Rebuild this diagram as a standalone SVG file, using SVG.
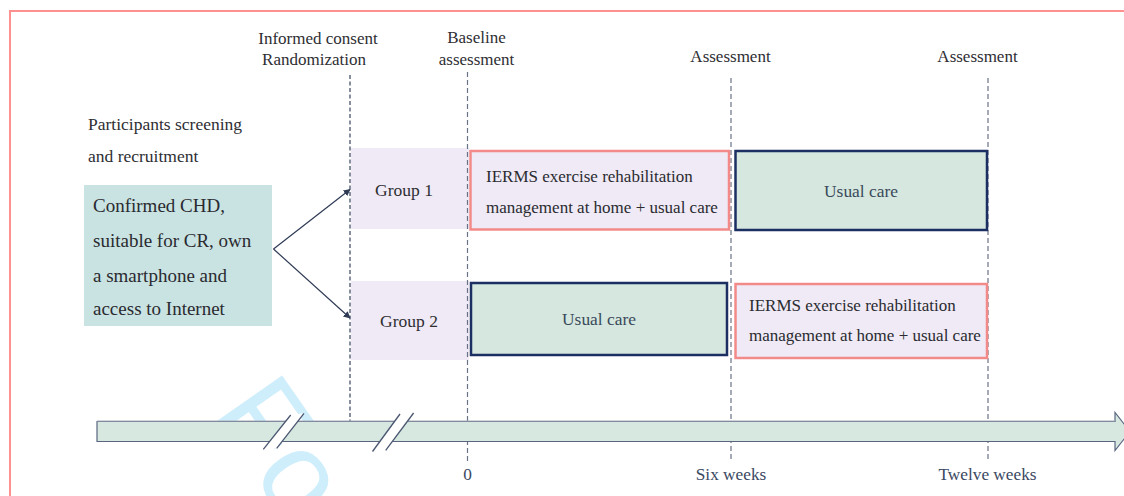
<svg xmlns="http://www.w3.org/2000/svg" width="1124" height="496" viewBox="0 0 1124 496">
<defs>
<style>
text{font-family:"Liberation Serif","Times New Roman",serif;}
.lbl{font-size:17px;fill:#2e2e33;}
.ax{font-size:17.3px;fill:#3a4862;}
.bx{font-size:17px;fill:#2a2a30;}
.uc{font-size:17.4px;fill:#3a4a5c;}
.band{fill:#efeaf5;}
.pink{fill:#efeaf5;stroke:#f38a8a;stroke-width:2.5;}
.navy{fill:#d5e7de;stroke:#1c2f63;stroke-width:2.5;}
.dash{fill:none;stroke:#6a7386;stroke-width:1.2;stroke-dasharray:5 3;}
.conn{fill:none;stroke:#2f3b55;stroke-width:1.2;}
.brk{fill:none;stroke:#4a5670;stroke-width:1.3;}
</style>
<marker id="ah" viewBox="0 0 10 10" refX="9" refY="5" markerWidth="7" markerHeight="7" orient="auto" markerUnits="userSpaceOnUse">
<path d="M0,0 L10,5 L0,10 Z" fill="#2f3b55"/>
</marker>
</defs>
<rect x="0" y="0" width="1124" height="496" fill="#ffffff"/>
<path d="M1124,11 L10,11 L10,496" fill="none" stroke="#ff9090" stroke-width="2"/>

<text x="210" y="414" transform="rotate(55 210 414)" style="font-family:'Liberation Sans',Arial,sans-serif;font-size:118px;fill:#cfeefc;">Fo</text>

<g id="labels-top">
<text class="lbl" x="318" y="44" text-anchor="middle">Informed consent</text>
<text class="lbl" x="314" y="64.5" text-anchor="middle">Randomization</text>
<text class="lbl" x="476.5" y="43" text-anchor="middle">Baseline</text>
<text class="lbl" x="476.5" y="64.5" text-anchor="middle">assessment</text>
<text class="lbl" x="730.5" y="62" text-anchor="middle">Assessment</text>
<text class="lbl" x="977.5" y="62" text-anchor="middle">Assessment</text>
</g>

<g id="screening">
<text class="lbl" x="88" y="130" style="font-size:17.5px">Participants screening</text>
<text class="lbl" x="88" y="161.5" style="font-size:17.5px">and recruitment</text>
</g>

<g id="group1-band"><rect class="band" x="351" y="148" width="118" height="81"/>
<text class="lbl" x="404" y="196" text-anchor="middle" style="font-size:17.5px">Group 1</text></g>
<g id="group2-band"><rect class="band" x="351" y="281" width="118" height="79"/>
<text class="lbl" x="409" y="327" text-anchor="middle" style="font-size:17.5px">Group 2</text></g>

<g id="timeline-dashes">
<line class="dash" x1="350" y1="75" x2="350" y2="421" style="stroke-width:1.6;stroke-dasharray:4 2.5"/>
<line class="dash" x1="467.5" y1="72" x2="467.5" y2="461"/>
<line class="dash" x1="731" y1="78" x2="731" y2="461"/>
<line class="dash" x1="988" y1="78" x2="988" y2="461"/>
</g>

<g id="eligible">
<rect x="84" y="185" width="188" height="141" fill="#c9e3e2"/>
<text class="bx" x="93" y="212" style="font-size:19px">Confirmed CHD,</text>
<text class="bx" x="93" y="247" style="font-size:19px">suitable for CR, own</text>
<text class="bx" x="93" y="281.5" style="font-size:19px">a smartphone and</text>
<text class="bx" x="93" y="315" style="font-size:19px">access to Internet</text>
</g>

<g id="g1-ierms">
<rect class="pink" x="470.5" y="151" width="258.5" height="78.5"/>
<text class="bx" x="486" y="182">IERMS exercise rehabilitation</text>
<text class="bx" x="486" y="213">management at home + usual care</text>
</g>
<g id="g1-usual">
<rect class="navy" x="735.5" y="151" width="251.5" height="79"/>
<text class="uc" x="861" y="197" text-anchor="middle">Usual care</text>
</g>
<g id="g2-usual">
<rect class="navy" x="471" y="283" width="256" height="72"/>
<text class="uc" x="599" y="325" text-anchor="middle">Usual care</text>
</g>
<g id="g2-ierms">
<rect class="pink" x="735.5" y="284" width="251.5" height="74"/>
<text class="bx" x="749" y="311">IERMS exercise rehabilitation</text>
<text class="bx" x="749" y="341">management at home + usual care</text>
</g>

<g id="connectors">
<line class="conn" x1="273.5" y1="249" x2="350" y2="189.5" marker-end="url(#ah)"/>
<line class="conn" x1="273.5" y1="249" x2="350" y2="318" marker-end="url(#ah)"/>
</g>

<g id="timeline">
<path d="M97,421.5 L1115,421.5 L1115,412.5 L1130,431.5 L1115,450.5 L1115,441.5 L97,441.5 Z" fill="#d6e8e0" stroke="#5a6680" stroke-width="1.2"/>
<line x1="97" y1="421" x2="1115" y2="421" stroke="#a7aebb" stroke-width="1"/>
<polygon points="263.3,449.3 290.7,415 304,413.3 276.7,448.3" fill="#ffffff"/>
<line class="brk" x1="263.3" y1="449.3" x2="290.7" y2="415"/>
<line class="brk" x1="276.7" y1="448.3" x2="304" y2="413.3"/>
<polygon points="372.5,451.5 400,414 413.6,413 385.7,450.4" fill="#ffffff"/>
<line class="brk" x1="372.5" y1="451.5" x2="400" y2="414"/>
<line class="brk" x1="385.7" y1="450.4" x2="413.6" y2="413"/>
</g>

<g id="labels-bottom">
<text class="ax" x="467.5" y="480" text-anchor="middle">0</text>
<text class="ax" x="731" y="480" text-anchor="middle">Six weeks</text>
<text class="ax" x="987.5" y="480" text-anchor="middle">Twelve weeks</text>
</g>
</svg>
